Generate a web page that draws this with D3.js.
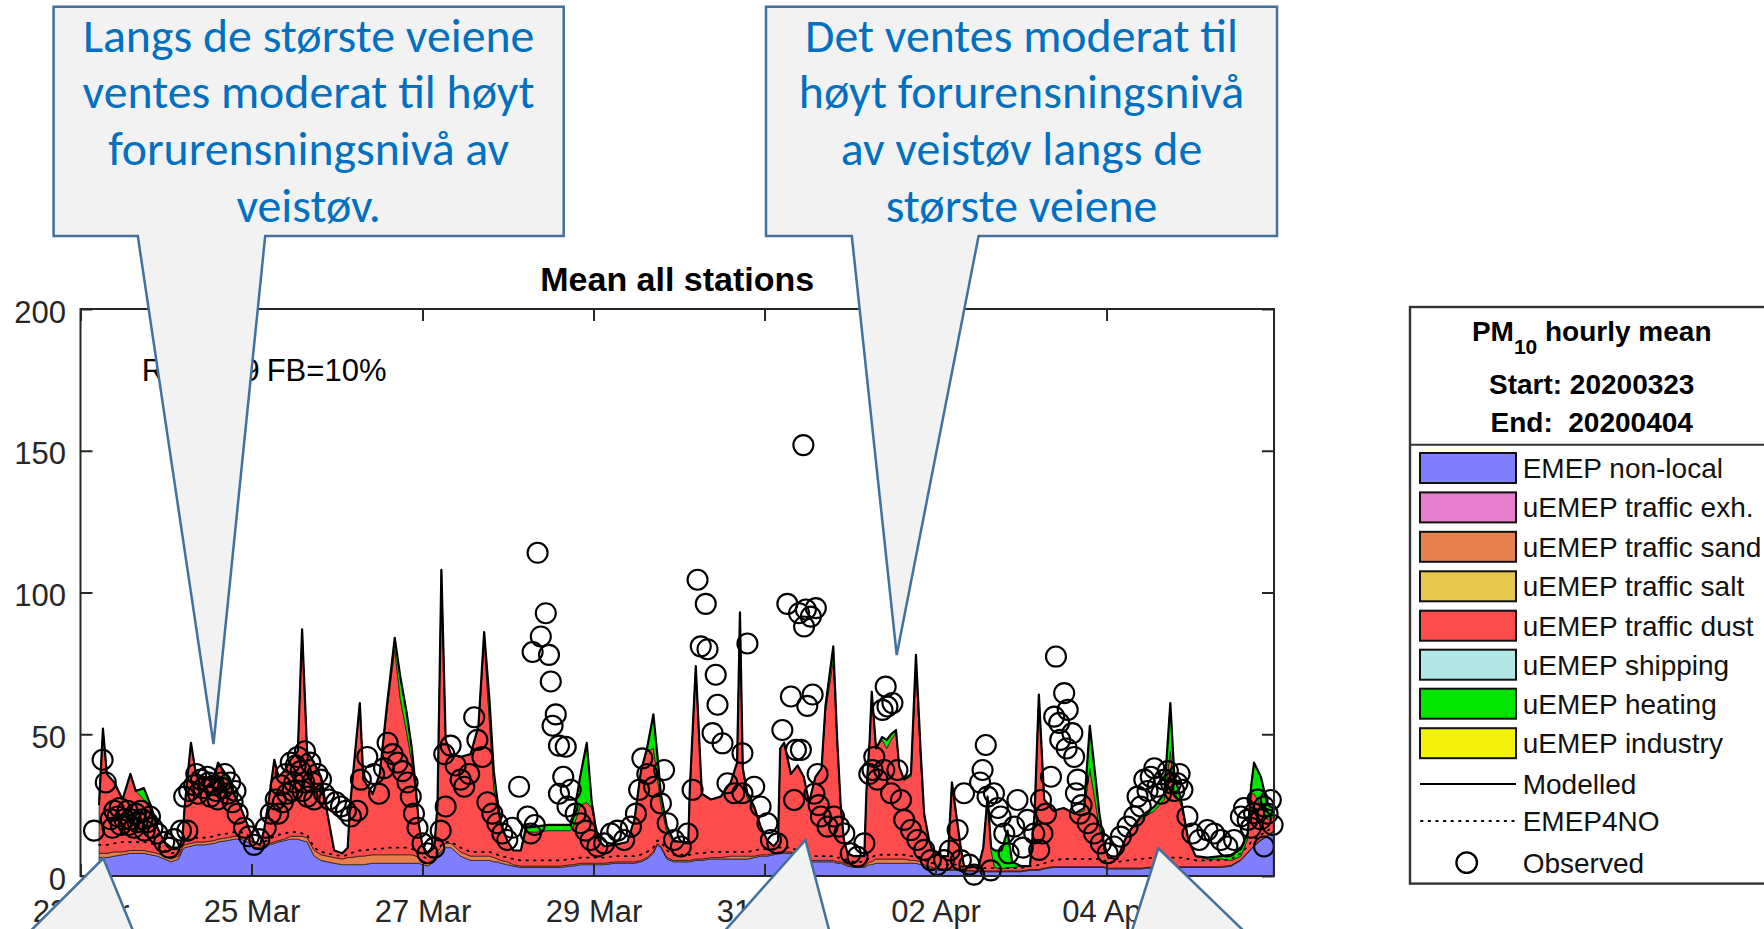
<!DOCTYPE html>
<html><head><meta charset="utf-8">
<script src="https://cdn.jsdelivr.net/npm/d3@7"></script>
<style>
html,body{margin:0;padding:0;background:#fff;}
svg{display:block;}
</style></head>
<body>
<svg id="chart" width="1764" height="929"></svg>
<script>
// ---------------- DATA ----------------
// model time grid: hours since 2020-03-23 00:00 UTC
const hours = [
5.2,6.3,7.4,9.5,11.8,14.0,15.5,17.8,19.7,21.6,
23.5,25.5,27.5,28.6,29.2,31.0,32.4,34.7,37.5,38.6,
41.3,43.1,45.0,46.9,48.7,50.4,51.5,53.0,54.4,55.6,
57.2,59.0,61.0,62.2,63.6,65.6,67.5,69.3,71.2,73.5,
75.0,75.6,78.4,79.4,82.0,84.0,86.0,88.2,89.8,91.5,
93.0,94.2,95.0,96.0,97.4,99.3,100.2,101.3,102.5,104.0,
106.7,109.5,111.7,113.3,114.8,116.0,117.0,118.0,119.8,121.5,
123.6,125.0,128.0,131.0,134.8,137.5,138.2,140.4,142.1,143.5,
144.5,145.5,147.0,150.0,153.5,155.5,157.3,159.0,160.8,161.9,
162.9,164.6,166.5,168.5,170.6,171.0,172.7,174.4,176.9,179.7,
182.5,184.3,185.1,185.9,187.2,189.1,190.9,192.8,194.6,195.8,
196.4,197.5,199.4,201.3,203.0,204.5,206.3,208.0,209.1,211.3,
212.4,213.4,214.3,215.3,217.0,220.0,220.6,221.5,222.1,223.3,
225.0,226.3,227.5,228.9,229.8,231.2,233.1,234.5,235.9,236.8,
238.2,239.1,241.5,243.5,244.6,246.2,247.2,248.0,252.0,253.4,
254.6,255.6,256.6,258.5,260.2,261.5,264.0,266.5,267.8,269.0,
270.5,273.0,276.0,279.0,281.7,283.3,284.7,286.0,287.2,288.5,
291.0,293.9,297.6,301.4,304.2,305.9,307.0,308.9,311.0,313.0,
316.3,320.1,323.0,325.7,327.6,328.6,329.4,331.3,333.2,334.8];

const emepNonLocal = [
6.5,6.5,6.5,7,7.5,8,8,8,7.5,7,
6,5,6,9,10,10.5,11,11,11.5,12,
12.5,13,13,12,9.5,9.5,10.5,11,11.5,12,
12.5,13,13,12.5,12,7,5.5,5,4.5,4,
4,4,4,4,4.5,4.5,4.5,4.5,4.5,4.5,
4.5,4.5,4.5,4,3.5,5,7,9,10,10,
7,5.5,5.5,5.5,5.5,5,5,4.5,4,3.5,
3,3,3,3,3,3.5,3.5,4,4,4,
4,4,4,4.5,4.5,4.5,5,6,8,11,
10,6,5,5,5,5,5.5,5.5,6,6,
6,6,6,6,6,6.5,7,7,7.5,8,
8,8,8,7,6,5,5,5,5,5,
4.5,4.5,4,3.5,3,3,3.5,4,4,4.5,
4.5,4.5,4.5,4.5,4.5,4.5,4.5,4.5,4,3.5,
3,2.5,2,2,2,2,1.5,1.5,1.5,1.5,
1.5,1.5,1.5,1.5,1.5,1.5,1.5,2,2,2,
2.5,3,3,3,3,3,3,3,3,2.5,
2.5,2.5,2.5,3,3,3,3,3,3,3,
3,3,3.5,5.5,8,9.5,10.5,12.5,14,15.5];

const trafficSand = [
1.5,1.5,1.5,1.5,1,1,1,1,1,1,
1,1,1,1,1,1,1,1,1,1,
1,1,1,1,0.5,0.5,0.5,0.5,0.5,0.5,
0.5,1,1,1.5,1.5,2,2,2,2,2,
2.5,2.5,3,3,3,3,3,3,3,3,
3,2.5,2,1.5,1,1,1.5,1.5,1.5,1.5,
1.5,1.5,1.5,1.5,1.5,1.5,1,1,1,0.5,
0.5,0.5,0.5,0.5,0.5,0.5,0.5,0.5,0.5,0.5,
0.5,0.5,0.5,0.5,0.5,0.5,0.5,0.5,0.5,0.5,
0.5,0.5,0.5,0.5,0.5,0.5,0.5,0.5,0.5,0.5,
1,1,1,1,1,0.5,0.5,0.5,0.5,0.5,
0.5,0.5,0.5,0.5,0.5,0.5,0.5,0.5,0.5,0.5,
0.5,0.5,0.5,0.5,0.5,0.5,0.5,1,1,1.5,
1.5,1.5,1.5,1.5,1.5,1.5,1,1,1,0.5,
0.5,0.5,0.5,0.5,0.5,0.5,0.5,0.5,0.3,0.3,
0.3,0.3,0.3,0.3,0.3,0.3,0.3,0.3,0.3,0.3,
0.3,0.3,0.3,0.3,0.3,0.3,0.3,0.3,0.3,0.3,
0.3,0.3,0.3,0.3,0.3,0.3,0.3,0.3,0.3,0.3,
0.3,0.3,0.3,0.3,0.3,0.3,0.3,0.3,0.3,0.3];

const trafficDust = [
17,44,28,24.5,18.5,27,21,18,14.5,9,
5,4,3,3,13,35.5,24,23,21.5,27,
19.5,14,10,5,2,1,5,16.5,29,22.5,
24,27,30,73,30.5,30,27.5,15,2.5,2,
3.5,17.5,54,27,21.5,28.5,50.5,72.5,54.5,43.5,
32.5,21,11.5,5,3.5,4,16.5,97.5,36.5,31.5,
33.5,36,45,76,47,24.5,18,12,7.5,5,
5.5,12,12,12.5,12.5,12,13,20.5,21.5,19.5,
13.5,8,6,6,7,15,31.5,37.5,36.5,23.5,
14.5,9,6.5,6.5,6.5,24.5,68,23,20.5,21.5,
26,33,86,30,20.5,16.5,10,5,2.5,4,
36.5,38.5,27.5,31.5,28.5,20.5,29.5,32.5,52.5,70.5,
41,19.5,8,4,3.5,3.5,26,43,60,39,
42,39,42,44.5,32.5,28,29.5,67.5,34,17,
9,6,4.5,4.5,30.5,15.5,7,1.5,1.2,8.2,
26.2,7.2,1.2,0.7,1.2,1.2,1.7,1.2,19.7,61.7,
24.2,19.7,20.7,18.7,19.7,34.7,23.7,13.7,7.7,3.7,
3.2,12.2,17.2,19.7,23.7,40.7,26.7,21.7,9.2,3.7,
2.7,2.7,1.7,1.2,4.7,19.2,18.2,12.2,5.7,5.2];

const heating = [
0,0,0,0,0,0,0,4,2,0,
0,0,0,0,0,0,0,0,0,0,
2,1,0,0,0,0,0,0,0,0,
0,0,0,0,0,1,0,0,0,0,
0,0,0,0,0,0,2,4,8,7,
5,2,0,0,0,0,0,0,0,0,
0,0,1,3,8,6,3,1,0,0,
0,1.5,2,2,2,2,3,11,21,2,
0,0,0,0,0,0,0,1,12,8,
4,2,0.5,0,0,0,0,0,0,0,
0,0,0,1,1.5,1,0,0,0,0,
0,0,0,0,0,0,0,0,2,5,
2,0,0,0,0,0,0,0,0,0,
1,3,2,1,0,0,1,5,3,1,
0,0,0,0,0,0,0,0,0,0,
0,1,6,6.5,13,2,0,0,0,0,
0,0,0,0,1,15,10,5,1,0,
0,0,1,1.5,2,17,6,2,0,0,
0.5,1,2,2.5,2,3,11,10,5,3];

const emep4no = [
11,11,11,11.5,12,12,12,12,11.5,11,
9,8,8.5,11,12,13,13.5,13.5,14,14.5,
15,15.5,15.5,14.5,11.5,11,12,13,14,14.5,
15,15.5,15.5,15,14.5,10,8.5,8,7.5,7,
7.5,8,9,9,9.5,9.5,10,10,10,10,
9.5,9,8.5,7,6,7,9,11,12,12,
10,8.5,8.5,8.5,8.5,8,7.5,7,6.5,6,
5.5,5.5,5.5,5.5,5.5,6,6,6.5,6.5,6.5,
6.5,6.5,6.5,7,7,7,7.5,8.5,10,12.5,
12,9,7.5,7.5,7.5,7.5,8,8,8.5,8.5,
8.5,8.5,8.5,8.5,8.5,9,9.5,9.5,9.5,10,
10,10,10,9,8,7,7,7,7,7,
6.5,6.5,6,5.5,5,5,5.5,6.5,6.5,7.5,
7.5,7.5,7.5,7.5,7.5,7.5,7,7,6.5,5.5,
5,4.5,4,4,4,4,3.5,3,2.8,2.8,
2.8,2.8,2.8,2.8,2.8,2.8,2.8,3.5,3.5,4,
4.5,5.5,6,6,6,6,6,6,5.5,5,
5,5.5,6,6.5,6.5,6.5,6.5,6.5,6,5.5,
5.5,5.5,6,8,10.5,12,13,14.5,16,17.5];

// observed [hours since 2020-03-23 00:00, value]
const observed = [
[3.8,16],[6.2,41],[7.1,33],[8.5,20],[9.0,17],[9.5,23],[10.4,21],[11.0,24],[11.3,18],[12.3,20],[13.2,23],[13.5,18],[14.1,20],
[15.0,17],[15.5,22],[16.0,19],[17.0,23],[17.4,20],[18.0,16],[18.8,19],[19.5,21],[20.2,17],[21.6,15],[23.5,12],[24.9,10],
[26.3,13],[28.2,16],[29.1,28],[30.0,16],[30.5,30],[31.9,32],[32.5,36],[33.0,29],[33.8,34],[34.5,31],[35.6,35],[36.0,33],[36.5,28],[37.5,32],
[38.0,30],[38.5,27],[39.4,33],[40.0,31],[40.5,36],[41.3,29],[42.0,33],[42.7,26],[43.5,30],[44.1,22],[45.9,17],[47.3,14],[48.7,11],
[50.2,13],[52.0,17],[53.4,22],[54.8,27],[55.5,22],[56.2,32],[56.8,26],[57.6,36],[58.0,29],[59.0,40],[59.5,30],[60.0,33],
[60.4,39],[61.0,42],[61.8,37],[62.3,30],[62.8,33],[63.0,44],[63.7,28],[64.5,40],[65.0,33],[65.6,27],[66.5,36],[67.5,34],[68.4,29],
[69.8,27],[71.7,26],[73.1,24.5],[74.5,23],[75.9,21],[77.7,23],[78.7,34],[80.5,42],[82.4,36],[83.8,29],
[85.2,38],[86.2,47],[87.6,43],[89.0,40],[90.4,37],[91.8,33],[92.7,28],[93.6,22],[94.6,17],[96.0,11.5],
[97.4,8],[99.3,10],[101.1,16],[102.1,43],[102.5,24.5],[103.9,46],[105.3,39],[106.7,34],[107.7,31.5],[109.1,36],
[110.5,56],[111.4,48],[112.8,42],[114.2,26],[115.6,22],[117.0,18.6],[118.4,15],[119.8,12.7],[121.2,17],[123.1,31.5],
[125.5,21],[126.4,15],[126.9,79],[127.5,18],[128.3,114],[129.2,84.5],[130.6,92.7],[131.5,78],[132.0,68.6],[132.5,53],
[133.4,57],[134.3,46],[134.3,29],[135.5,35],[136.2,45.6],[136.7,24.5],[137.6,30.4],[139.0,22],[140.4,18.6],[141.8,16],
[143.2,12.7],[145.1,10.4],[147.0,11.5],[148.9,15],[150.7,16],[152.6,12.7],[154.5,17.4],[155.9,22],[156.8,30.4],[157.7,41.5],
[159.1,36],[161.0,31.5],[162.9,25.6],[163.8,37.4],[164.8,18.6],[166.6,12.7],[168.5,10.4],[170.4,15],[171.8,30.4],[173.2,104.5],
[174.1,81],[175.5,96],[176.0,80],[177.4,50.4],[178.3,71],[178.8,60.4],[180.2,46.8],[181.6,32.7],[183.5,29.2],[185.8,29.2],
[185.8,43.3],[187.2,82],[189.1,31.5],[190.9,24.5],[192.8,18.6],[193.8,12.7],[195.6,11.5],[197.0,51.5],[198.4,96],[199.4,63.3],
[200.3,26.8],[200.8,44.5],[201.7,92.7],[202.2,44.5],[202.9,152],[203.1,88],[203.6,94],[204.0,60],[205.0,91.5],[205.5,64],[206.4,94.5],
[206.0,29],[206.9,36],[207.2,25],[207.8,21],[209.7,17.4],[211.5,21],[212.9,17.4],[214.4,15],[216.2,8],[218.1,6.8],[220.0,11.5],
[221.4,36],[222.3,37.4],[222.8,42],[223.7,34],[225.1,58.6],[225.6,37.4],[226.0,66.8],[226.5,59.8],[227.5,29.2],[227.9,61],
[229.3,37.4],[230.3,26.8],[231.2,19.8],[233.1,16.2],[234.9,12.7],[236.8,9.2],[238.7,5.6],[240.5,3.9],[242.4,5.6],[244.0,9],
[246.2,16.2],[247.1,5.6],[248.0,29.2],[249.5,4],[250.8,0.5],[252.5,33],[253.2,37.4],[254.1,46.2],[254.6,28],[255.5,2],
[256.4,29.2],[257.5,24],[258.3,21],[259.3,15],[260.5,8],[262.1,17.4],[263.0,26.8],[264.5,10],[265.8,19.8],[267.7,15],
[269.1,9.2],[269.6,26.8],[270.0,15],[271.0,22],[272.4,35],[273.3,56.2],[273.8,77.4],[274.7,54],[275.0,48],[276.1,64.5],[276.8,45],[277.1,58.6],[278.4,50.4],
[278.9,42],[279.4,29.2],[279.9,34],[280.5,22],[281.0,25],[282.7,18.6],[284.5,15],[286.4,11.5],[288.3,8],[290.1,10.4],[292.0,13.9],
[293.9,17.4],[295.8,21],[296.7,28],[297.6,24.5],[298.6,34],[299.5,30],[300.4,35],[301.4,38],[302.3,31.5],[303.3,29],[304.2,34],[305.2,37],[306.1,32.7],[307.0,30],[307.9,32.7],[308.5,36],[309.3,30.4],
[310.7,21],[312.1,15],[314.0,12.7],[316.3,16.2],[318.2,15],[320.1,12.7],[321.9,10.4],[323.8,12.7],[325.7,21],[326.6,24],[327.6,19.8],[328.5,17],
[329.4,22.1],[330.4,27],[331.3,20],[332.2,24.5],[332.2,10.4],[333.2,22],[334.1,26.8],[334.6,18]];

const yTicks = [0, 50, 100, 150, 200];
const xTickDates = ["2020-03-23","2020-03-25","2020-03-27","2020-03-29","2020-03-31","2020-04-02","2020-04-04"];
const legendNames = ["EMEP non-local","uEMEP traffic exh.","uEMEP traffic sand","uEMEP traffic salt","uEMEP traffic dust","uEMEP shipping","uEMEP heating","uEMEP industry"];
const legendColors = ["#7f7fff","#e57fcc","#e6804c","#e6c84c","#ff4c4c","#b3e6e6","#00e600","#f2f20d"];
const titleText = "Mean all stations";
const statR = "R = 0.69";
const statFB = "FB=10%";
const callout1Lines = ["Langs de største veiene","ventes moderat til høyt","forurensningsnivå av","veistøv."];
const callout2Lines = ["Det ventes moderat til","høyt forurensningsnivå","av veistøv langs de","største veiene"];

// ---------------- DRAW ----------------
(function () {
const svg = d3.select("#chart");
const AX = "Liberation Sans, Arial, Helvetica, sans-serif";
const t0 = Date.UTC(2020, 2, 23);
const toDate = h => new Date(t0 + h * 3600000);
const plot = {l: 80.5, r: 1274, t: 309, b: 876};

const x = d3.scaleUtc().domain([toDate(0), toDate(335)]).range([plot.l, plot.r]);
const y = d3.scaleLinear().domain([0, 200]).range([plot.b, plot.t]);

const n = Math.min(hours.length, emepNonLocal.length, trafficSand.length, trafficDust.length, heating.length, emep4no.length);
const rows = d3.range(n).map(i => ({
  t: toDate(hours[i]), nonlocal: emepNonLocal[i], sand: trafficSand[i], dust: trafficDust[i], heat: heating[i], e4: emep4no[i]
}));
const keys = ["nonlocal", "sand", "dust", "heat"];
const keyColor = {nonlocal: legendColors[0], sand: legendColors[2], dust: legendColors[4], heat: legendColors[6]};
const stacked = d3.stack().keys(keys)(rows);

svg.append("defs").append("clipPath").attr("id", "pc")
  .append("rect").attr("x", plot.l).attr("y", plot.t).attr("width", plot.r - plot.l).attr("height", plot.b - plot.t);

const gPlot = svg.append("g").attr("clip-path", "url(#pc)");
const area = d3.area().x(d => x(d.data.t)).y0(d => y(d[0])).y1(d => y(d[1]));
gPlot.selectAll("path.layer").data(stacked).join("path")
  .attr("class", "layer").attr("d", area)
  .attr("fill", d => keyColor[d.key]).attr("stroke", "#000").attr("stroke-width", 0.6).attr("stroke-linejoin", "round");

// EMEP4NO dotted
gPlot.append("path").datum(rows)
  .attr("d", d3.line().x(d => x(d.t)).y(d => y(d.e4)))
  .attr("fill", "none").attr("stroke", "#000").attr("stroke-width", 1.8)
  .attr("stroke-dasharray", "1.6 6").attr("stroke-linecap", "round");

// Modelled (total)
const topLayer = stacked[stacked.length - 1];
gPlot.append("path").datum(topLayer)
  .attr("d", d3.line().x(d => x(d.data.t)).y(d => y(d[1])))
  .attr("fill", "none").attr("stroke", "#000").attr("stroke-width", 2.2).attr("stroke-linejoin", "round");

// Observed circles
svg.append("g").selectAll("circle").data(observed).join("circle")
  .attr("cx", d => x(toDate(d[0]))).attr("cy", d => y(d[1])).attr("r", 10)
  .attr("fill", "none").attr("stroke", "#000").attr("stroke-width", 2.1);

// Axes
const parse = d3.utcParse("%Y-%m-%d");
const xt = xTickDates.map(parse);
const fmt = d3.utcFormat("%d %b");
const axB = svg.append("g").attr("transform", `translate(0,${plot.b})`)
  .call(d3.axisBottom(x).tickValues(xt).tickFormat(fmt).tickSize(-12).tickSizeOuter(0).tickPadding(23.5));
const axT = svg.append("g").attr("transform", `translate(0,${plot.t})`)
  .call(d3.axisTop(x).tickValues(xt).tickFormat("").tickSize(-12).tickSizeOuter(0));
const axL = svg.append("g").attr("transform", `translate(${plot.l},0)`)
  .call(d3.axisLeft(y).tickValues(yTicks).tickSize(-12).tickSizeOuter(0).tickPadding(14.5));
const axR = svg.append("g").attr("transform", `translate(${plot.r},0)`)
  .call(d3.axisRight(y).tickValues(yTicks).tickFormat("").tickSize(-12).tickSizeOuter(0));
[axB, axT, axL, axR].forEach(a => {
  a.select(".domain").remove();
  a.selectAll(".tick line").attr("stroke", "#262626").attr("stroke-width", 2);
  a.selectAll(".tick text").attr("fill", "#262626").style("font-family", AX).style("font-size", "31px");
});
axL.selectAll(".tick text").attr("dy", "0.42em");
svg.append("rect").attr("x", plot.l).attr("y", plot.t).attr("width", plot.r - plot.l).attr("height", plot.b - plot.t)
  .attr("fill", "none").attr("stroke", "#262626").attr("stroke-width", 2);

// Title and stats text
svg.append("text").attr("x", (plot.l + plot.r) / 2).attr("y", 291).attr("text-anchor", "middle")
  .style("font-family", AX).style("font-size", "34px").style("font-weight", "bold").attr("fill", "#000").text(titleText);
svg.append("text").attr("x", 141.7).attr("y", 381).style("font-family", AX).style("font-size", "31px")
  .attr("fill", "#000").text(statR);
svg.append("text").attr("x", 266.7).attr("y", 381).style("font-family", AX).style("font-size", "31px")
  .attr("fill", "#000").text(statFB);

// Legend
const lg = svg.append("g");
lg.append("rect").attr("x", 1410).attr("y", 307).attr("width", 364).attr("height", 576.6)
  .attr("fill", "#fff").attr("stroke", "#333").attr("stroke-width", 2.4);
lg.append("line").attr("x1", 1410).attr("x2", 1774).attr("y1", 444.7).attr("y2", 444.7)
  .attr("stroke", "#333").attr("stroke-width", 2);
const hdr = lg.append("text").attr("x", 1591.7).attr("y", 341).attr("text-anchor", "middle")
  .style("font-family", AX).style("font-size", "28px").style("font-weight", "bold").attr("fill", "#000");
hdr.append("tspan").text("PM");
hdr.append("tspan").attr("dy", 12.5).style("font-size", "21px").text("10");
hdr.append("tspan").attr("dy", -12.5).text(" hourly mean");
lg.append("text").attr("x", 1591.7).attr("y", 394).attr("text-anchor", "middle")
  .style("font-family", AX).style("font-size", "28px").style("font-weight", "bold").style("white-space", "pre")
  .attr("fill", "#000").text("Start: 20200323");
lg.append("text").attr("x", 1591.7).attr("y", 432).attr("text-anchor", "middle")
  .style("font-family", AX).style("font-size", "28px").style("font-weight", "bold").style("white-space", "pre")
  .attr("fill", "#000").text("End:  20200404");
const rowY = [468, 507.4, 546.8, 586.3, 625.7, 664.7, 703.7, 743.2];
legendNames.forEach((nm, i) => {
  lg.append("rect").attr("x", 1420).attr("y", rowY[i] - 15).attr("width", 96).attr("height", 30)
    .attr("fill", legendColors[i]).attr("stroke", "#111").attr("stroke-width", 2);
  lg.append("text").attr("x", 1522.7).attr("y", rowY[i] + 10).style("font-family", AX).style("font-size", "28px")
    .attr("fill", "#111").text(nm);
});
lg.append("line").attr("x1", 1420).attr("x2", 1516).attr("y1", 784).attr("y2", 784).attr("stroke", "#000").attr("stroke-width", 2);
lg.append("text").attr("x", 1522.7).attr("y", 794).style("font-family", AX).style("font-size", "28px").attr("fill", "#111").text("Modelled");
lg.append("line").attr("x1", 1421).attr("x2", 1516).attr("y1", 821).attr("y2", 821).attr("stroke", "#000").attr("stroke-width", 1.8)
  .attr("stroke-dasharray", "1.6 6").attr("stroke-linecap", "round");
lg.append("text").attr("x", 1522.7).attr("y", 831).style("font-family", AX).style("font-size", "28px").attr("fill", "#111").text("EMEP4NO");
lg.append("circle").attr("cx", 1466.7).attr("cy", 862.6).attr("r", 10.3).attr("fill", "none").attr("stroke", "#000").attr("stroke-width", 2.3);
lg.append("text").attr("x", 1522.7).attr("y", 872.6).style("font-family", AX).style("font-size", "28px").attr("fill", "#111").text("Observed");

// Callouts
const CF = "#f2f2f2", CS = "#41719c";
const gc = svg.append("g");
function topCallout(x0, y0, x1, y1, bl, br, tx, ty) {
  gc.append("path").attr("d", `M${x0},${y0}H${x1}V${y1}H${br}L${tx},${ty}L${bl},${y1}H${x0}Z`)
    .attr("fill", CF).attr("stroke", CS).attr("stroke-width", 2.5).attr("stroke-linejoin", "miter");
}
topCallout(53.6, 6.7, 563.7, 236, 137.8, 265.2, 213.5, 744);
topCallout(766, 6.7, 1277, 236, 851.8, 978.6, 896.7, 655);
function bottomPointer(xl, tx, ty, xr) {
  gc.append("path").attr("d", `M${xl},936L${tx},${ty}L${xr},936`)
    .attr("fill", CF).attr("stroke", CS).attr("stroke-width", 2.5).attr("stroke-linejoin", "miter");
}
bottomPointer(25.4, 103.3, 858.3, 135.2);
bottomPointer(720.2, 805.5, 840, 830.6);
bottomPointer(1130.3, 1158.3, 848.3, 1249);

const CFONT = "Carlito, Calibri, Lato, 'Open Sans', sans-serif";
const baselines = [51.7, 108.3, 165, 221.7];
function calloutText(lines, cx) {
  return lines.map((t, i) => gc.append("text").attr("x", cx).attr("y", baselines[i]).attr("text-anchor", "middle")
    .style("font-family", CFONT).style("font-size", "44px").attr("fill", "#0070c0").text(t));
}
const c1 = calloutText(callout1Lines, 308.6);
const c2 = calloutText(callout2Lines, 1021.5);
const w = c1[0].node().getComputedTextLength();
const fs = 44 * 451.6 / w;
c1.concat(c2).forEach(t => t.style("font-size", fs.toFixed(2) + "px"));
})();
</script>
</body></html>
